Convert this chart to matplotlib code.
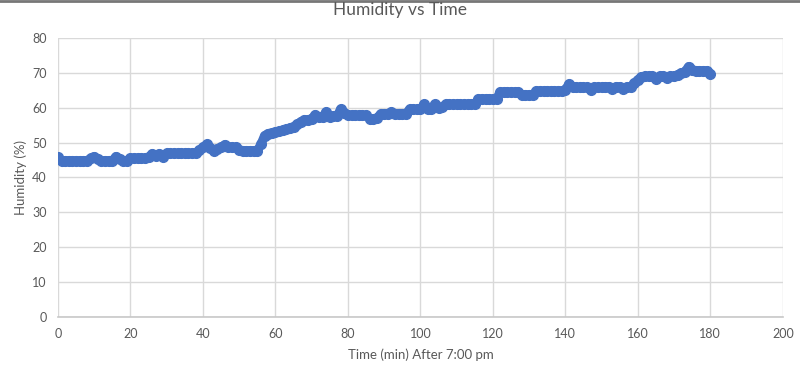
import matplotlib.pyplot as plt
import matplotlib.lines as mlines
import numpy as np

plt.rcParams["font.family"] = ["Lato", "DejaVu Sans"]

# minutes after 7:00 pm, one reading per minute
minutes = list(range(0, 181))
humidity = [
    45.8, 44.8, 44.8, 44.8, 44.8, 44.8, 44.8, 44.8, 44.8, 45.5,
    46.0, 45.3, 44.8, 44.8, 44.8, 44.8, 46.0, 45.2, 44.8, 44.8,
    45.5, 45.5, 45.5, 45.5, 45.5, 45.8, 46.8, 46.2, 46.8, 46.0,
    46.9, 46.9, 46.9, 46.9, 46.9, 46.9, 46.9, 46.9, 46.9, 47.8,
    48.6, 49.5, 48.5, 47.5, 48.3, 48.6, 49.4, 48.8, 48.6, 48.6,
    47.8, 47.7, 47.7, 47.7, 47.7, 47.7, 49.5, 52.0, 52.6, 52.8,
    53.0, 53.2, 53.6, 53.8, 54.2, 54.6, 55.2, 56.0, 56.5, 56.6,
    56.8, 58.0, 57.2, 57.4, 58.8, 57.4, 57.5, 57.6, 59.6, 58.6,
    58.0, 57.8, 57.8, 57.8, 57.8, 57.8, 56.8, 56.7, 57.0, 58.2,
    58.3, 58.3, 58.8, 58.3, 58.3, 58.3, 58.3, 59.5, 59.5, 59.5,
    59.5, 61.0, 59.6, 59.6, 61.0, 59.8, 60.2, 61.0, 61.0, 61.0,
    61.0, 61.0, 61.0, 61.0, 61.0, 61.0, 62.5, 62.5, 62.5, 62.5,
    62.5, 62.5, 64.5, 64.5, 64.5, 64.5, 64.5, 64.5, 63.7, 63.7,
    63.7, 63.7, 64.8, 64.8, 64.8, 64.8, 64.8, 64.8, 64.8, 64.8,
    65.2, 66.8, 65.8, 65.8, 65.8, 65.8, 65.8, 65.2, 65.8, 65.8,
    65.8, 66.0, 66.0, 65.5, 66.0, 66.0, 65.5, 66.0, 66.0, 67.0,
    68.0, 68.8, 69.0, 69.0, 69.0, 68.3, 69.0, 69.0, 68.5, 69.0,
    69.0, 69.5, 70.0, 70.3, 71.8, 70.8, 70.6, 70.6, 70.6, 70.6,
    69.8,
]

x_ticks = np.arange(0, 201, 20)
y_ticks = np.arange(0, 81, 10)

blue = "#4472C4"
grid = "#D9D9D9"
text = "#595959"

fig = plt.figure(figsize=(8, 3.76), dpi=100)
ax = fig.add_axes([0.0725, 0.157, 0.906, 0.742])

ax.plot(minutes, humidity, color=blue, linewidth=6.5, marker="o",
        markersize=7, solid_capstyle="round", zorder=3)

ax.set_xlim(0, 200)
ax.set_ylim(0, 80)
ax.set_xticks(x_ticks)
ax.set_yticks(y_ticks)
ax.grid(True, color=grid, linewidth=1.0)
ax.set_axisbelow(True)
for side in ["top", "right", "left"]:
    ax.spines[side].set_visible(False)
ax.spines["bottom"].set_color("#C8C8C8")
ax.spines["bottom"].set_linewidth(1.2)
ax.tick_params(length=0, labelsize=9, labelcolor=text, pad=8)

ax.set_xlabel("Time (min) After 7:00 pm", fontsize=9.5, color=text, labelpad=6)
ax.set_ylabel("Humidity (%)", fontsize=9.5, color=text, labelpad=4)
fig.suptitle("Humidity vs Time", fontsize=12.5, color=text, y=0.995)

# thin border along the top edge, as in the screenshot
fig.add_artist(mlines.Line2D([0, 1], [0.997, 0.997], color="#777777",
                             linewidth=2, transform=fig.transFigure))

fig.savefig("out.png", dpi=100)
